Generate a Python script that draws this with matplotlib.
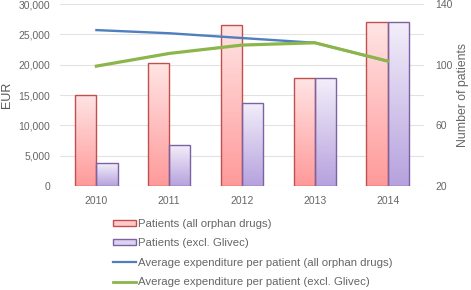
import numpy as np
import matplotlib
matplotlib.use("Agg")
import matplotlib.pyplot as plt
from matplotlib.patches import Patch
from matplotlib.lines import Line2D
from matplotlib.colors import LinearSegmentedColormap

plt.rcParams["font.family"] = ["Liberation Sans", "DejaVu Sans"]

# Data
years = ["2010", "2011", "2012", "2013", "2014"]
patients_all = [80, 101, 126, 91, 128]
patients_excl = [35, 47, 75, 91, 128]
avg_exp_all = [25700, 25180, 24390, 23610, 20590]
avg_exp_excl = [19760, 21850, 23230, 23610, 20590]

text_col = "#666666"
red_edge = "#c0504d"
purple_edge = "#7b62a3"
blue = "#4f7fbf"
green = "#8cb54c"

fig = plt.figure(figsize=(4.71, 2.90), dpi=100)
ax = fig.add_axes([0.1274, 0.3586, 0.7728, 0.6276])
ax2 = ax.twinx()

# bars on the right axis, drawn below the lines
ax.set_zorder(2)
ax.patch.set_visible(False)
ax2.set_zorder(1)

x = np.arange(len(years))
w = 0.29
red_cmap = LinearSegmentedColormap.from_list("r", ["#ff9a9a", "#ffe4e4"])
pur_cmap = LinearSegmentedColormap.from_list("p", ["#b6a2de", "#f3eefa"])
grad = np.linspace(0, 1, 100).reshape(-1, 1)

bars1 = ax2.bar(x - w / 2, np.array(patients_all) - 20, w, bottom=20,
                facecolor="none", edgecolor=red_edge, linewidth=1.0, zorder=3)
bars2 = ax2.bar(x + w / 2, np.array(patients_excl) - 20, w, bottom=20,
                facecolor="none", edgecolor=purple_edge, linewidth=1.0, zorder=3)
for bars, cmap in [(bars1, red_cmap), (bars2, pur_cmap)]:
    for b in bars:
        x0, y0 = b.get_x(), b.get_y()
        im = ax2.imshow(grad, cmap=cmap, origin="lower", aspect="auto",
                        extent=[x0, x0 + b.get_width(), y0, y0 + b.get_height()],
                        zorder=2)
        im.set_clip_path(b)

ax2.set_xlim(-0.5, 4.5)
ax2.set_ylim(20, 140)
ax2.set_yticks([20, 60, 100, 140])
ax2.set_yticks([40, 80, 120], minor=True)
ax2.grid(True, which="both", axis="y", color="#e2e2e2", linewidth=0.8, zorder=0)
ax2.set_axisbelow(True)
ax2.tick_params(axis="y", which="both", length=0, labelsize=7.5, labelcolor=text_col, pad=8)
ax2.set_ylabel("Number of patients", fontsize=8.8, color=text_col, labelpad=3)

# lines on the left axis
ax.plot(x, avg_exp_all, color=blue, linewidth=1.7, zorder=5)
ax.plot(x, avg_exp_excl, color=green, linewidth=2.3, zorder=6)
ax.set_ylim(0, 30000)
ax.set_xlim(-0.5, 4.5)
ax.set_yticks(range(0, 30001, 5000))
ax.set_yticklabels([f"{v:,}" for v in range(0, 30001, 5000)])
ax.set_xticks(x)
ax.set_xticklabels(years)
ax.tick_params(axis="both", length=0, labelsize=7.5, labelcolor=text_col)
ax.tick_params(axis="y", pad=7)
ax.tick_params(axis="x", pad=7)
ax.set_ylabel("EUR", fontsize=9, color="#555555", labelpad=4)

for a in (ax, ax2):
    for s in a.spines.values():
        s.set_visible(False)

handles = [
    Patch(facecolor="#ffcaca", edgecolor=red_edge, linewidth=1.0),
    Patch(facecolor="#ddd2f2", edgecolor=purple_edge, linewidth=1.0),
    Line2D([], [], color=blue, linewidth=1.6),
    Line2D([], [], color=green, linewidth=2.0),
]
labels = [
    "Patients (all orphan drugs)",
    "Patients (excl. Glivec)",
    "Average expenditure per patient (all orphan drugs)",
    "Average expenditure per patient (excl. Glivec)",
]
leg = fig.legend(handles, labels, loc="upper left", bbox_to_anchor=(0.239, 0.245),
                 frameon=False, fontsize=8.2, handlelength=2.1, handleheight=0.45,
                 handletextpad=0.12, labelspacing=0.83, borderaxespad=0, borderpad=0)
for t in leg.get_texts():
    t.set_color(text_col)

fig.savefig("out.png", dpi=100)
